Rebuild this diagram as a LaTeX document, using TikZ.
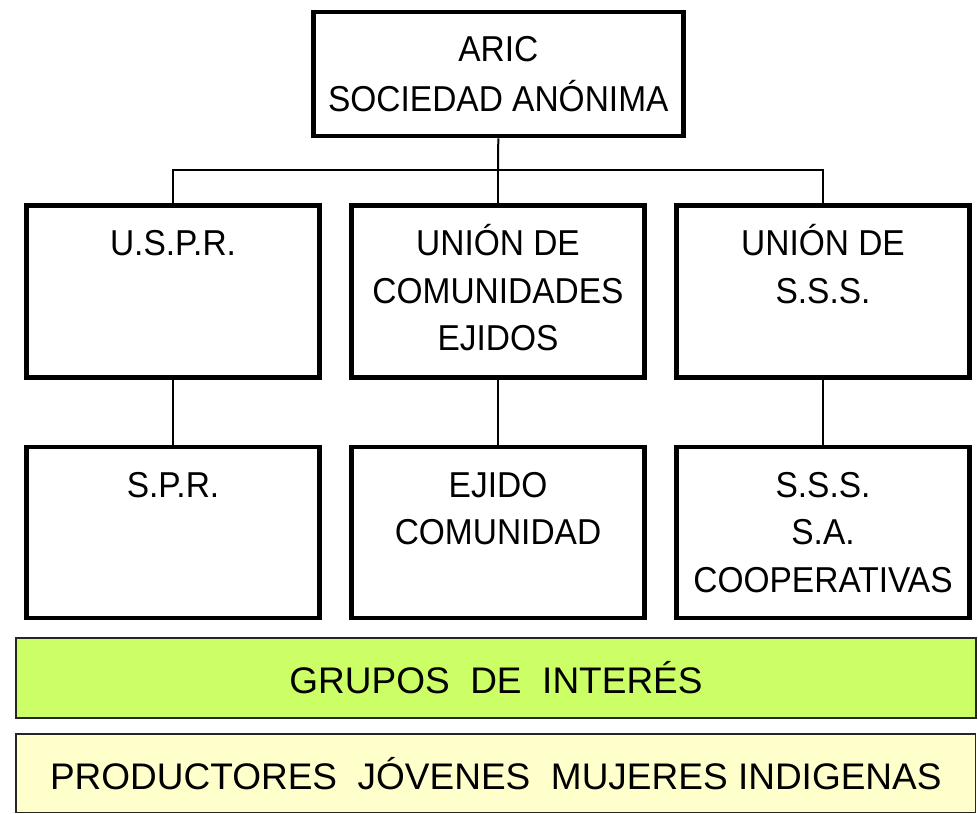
\documentclass[tikz,border=0pt]{standalone}
\usepackage{fontspec}
\setmainfont{Liberation Sans}
\newfontfamily\narrowfont[FakeStretch=0.93]{Liberation Sans}
\definecolor{barGreen}{HTML}{CCFF66}
\definecolor{barYellow}{HTML}{FFFFCC}
\newcommand{\boxtext}[3]{\parbox[c][#1][t]{293pt}{\centering\narrowfont\fontsize{36}{#2}\selectfont\rule{0pt}{50pt}#3\par}}
\tikzset{
  orgbox/.style={draw=black, line width=4.3pt, inner sep=0pt, fill=white},
  topbox/.style={draw=black, line width=4.8pt, inner sep=0pt, minimum width=370pt, minimum height=124pt,
    align=center, font=\narrowfont\fontsize{36}{50}\selectfont},
  link/.style={draw=black, line width=2pt},
  bar/.style={draw=black!85, line width=1.3pt, inner sep=0pt, font=\fontsize{37}{44}\selectfont}
}
\begin{document}
\begin{tikzpicture}[x=1pt,y=-1pt]
\useasboundingbox (0,0) rectangle (978,814);
% top
\node[topbox] (top) at (498.3,74) {ARIC\\SOCIEDAD ANÓNIMA};
% row 2
\node[orgbox] (b1) at (173,291.5) {\boxtext{172pt}{47.5pt}{U.S.P.R.}};
\node[orgbox] (b2) at (498,291.5) {\boxtext{172pt}{47.5pt}{UNIÓN DE\\COMUNIDADES\\EJIDOS}};
\node[orgbox] (b3) at (823,291.5) {\boxtext{172pt}{47.5pt}{UNIÓN DE\\S.S.S.}};
% row 3
\node[orgbox] (c1) at (173,532.5) {\boxtext{170.5pt}{47.5pt}{S.P.R.}};
\node[orgbox] (c2) at (498,532.5) {\boxtext{170.5pt}{47pt}{EJIDO\\COMUNIDAD}};
\node[orgbox] (c3) at (823,532.5) {\boxtext{170.5pt}{47.5pt}{S.S.S.\\S.A.\\COOPERATIVAS}};
% connectors
\coordinate (bus) at (498,170);
\draw[link] (top.south) -- (bus);
\draw[link] (b1.north) |- (bus) -| (b3.north);
\draw[link] (bus) -- (b2.north);
\draw[link] (b1.south) -- (c1.north);
\draw[link] (b2.south) -- (c2.north);
\draw[link] (b3.south) -- (c3.north);
% bars
\node[bar, fill=barGreen, minimum width=960pt, minimum height=80pt] (grupos) at (496,678) {GRUPOS~~DE~~INTERÉS};
\node[bar, fill=barYellow, minimum width=959.5pt, minimum height=78.5pt] (prod) at (495.8,773.3) {PRODUCTORES~~JÓVENES~~MUJERES INDIGENAS};
\end{tikzpicture}
\end{document}
